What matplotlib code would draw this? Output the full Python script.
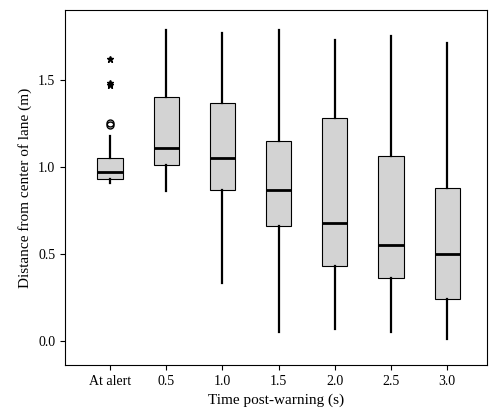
import matplotlib
matplotlib.use("Agg")
import matplotlib.pyplot as plt

labels = ["At alert", "0.5", "1.0", "1.5", "2.0", "2.5", "3.0"]
whislo = [0.91, 0.86, 0.33, 0.05, 0.07, 0.05, 0.01]
q1 = [0.93, 1.01, 0.87, 0.66, 0.43, 0.36, 0.24]
med = [0.97, 1.11, 1.05, 0.87, 0.68, 0.55, 0.50]
q3 = [1.05, 1.40, 1.37, 1.15, 1.28, 1.06, 0.88]
whishi = [1.18, 1.79, 1.77, 1.79, 1.73, 1.75, 1.71]
circ_out = [1.24, 1.255]
star_out = [1.47, 1.48, 1.62]

plt.rcParams['font.family'] = ['Liberation Serif', 'DejaVu Serif']
fig = plt.figure(figsize=(4.96, 4.15), dpi=100)
ax = fig.add_axes([0.131, 0.12, 0.85, 0.855])

stats = []
for i, lab in enumerate(labels):
    stats.append(dict(label=lab, whislo=whislo[i], q1=q1[i], med=med[i],
                      q3=q3[i], whishi=whishi[i], fliers=[]))
ax.bxp(stats, widths=0.45, patch_artist=True, showcaps=False,
       boxprops=dict(facecolor="#d3d3d3", edgecolor="black", linewidth=0.8),
       medianprops=dict(color="black", linewidth=2),
       whiskerprops=dict(color="black", linewidth=1.6))
ax.plot([1] * len(circ_out), circ_out, "o", mfc="none", mec="black", ms=5)
ax.plot([1] * len(star_out), star_out, "*", color="black", ms=5)

ax.set_xlim(0.2, 7.7)
ax.set_ylim(-0.14, 1.9)
ax.set_yticks([0.0, 0.5, 1.0, 1.5])
ax.set_yticklabels(["0.0", "0.5", "1.0", "1.5"])
ax.set_xlabel("Time post-warning (s)", fontsize=11)
ax.set_ylabel("Distance from center of lane (m)", fontsize=11)
ax.tick_params(labelsize=10)
fig.savefig("out.png")
